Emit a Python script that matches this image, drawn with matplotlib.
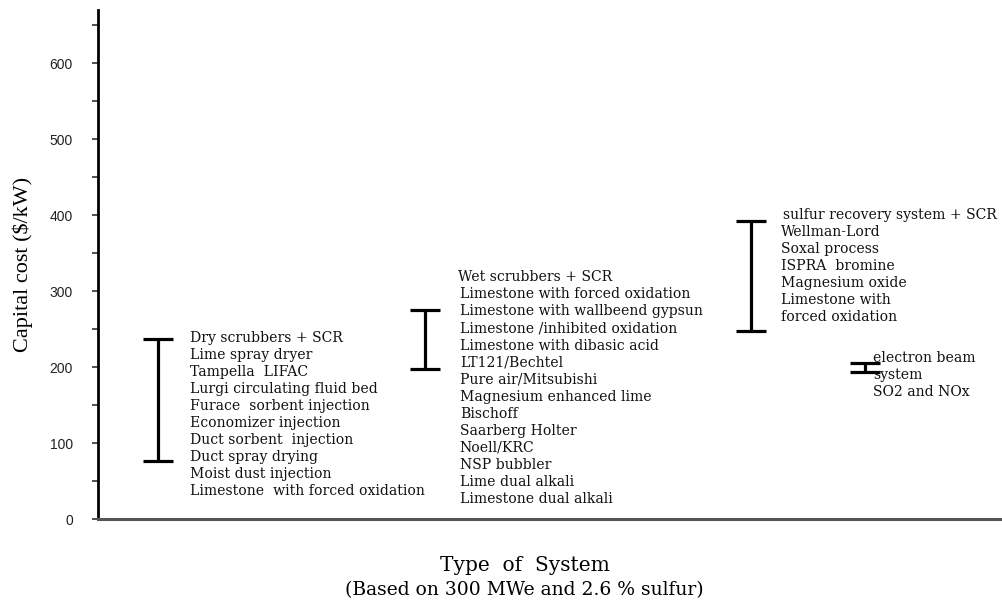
import matplotlib
matplotlib.use("Agg")
import matplotlib.pyplot as plt
from matplotlib.ticker import MultipleLocator

# capital cost ranges ($/kW) for each system group
low = [76, 197, 247, 193]
high = [237, 275, 392, 206]

group_lines = [
    ["Dry scrubbers + SCR", "Lime spray dryer", "Tampella  LIFAC",
     "Lurgi circulating fluid bed", "Furace  sorbent injection",
     "Economizer injection", "Duct sorbent  injection", "Duct spray drying",
     "Moist dust injection", "Limestone  with forced oxidation"],
    ["Wet scrubbers + SCR", "Limestone with forced oxidation",
     "Limestone with wallbeend gypsun", "Limestone /inhibited oxidation",
     "Limestone with dibasic acid", "LT121/Bechtel", "Pure air/Mitsubishi",
     "Magnesium enhanced lime", "Bischoff", "Saarberg Holter", "Noell/KRC",
     "NSP bubbler", "Lime dual alkali", "Limestone dual alkali"],
    ["sulfur recovery system + SCR", "Wellman-Lord", "Soxal process",
     "ISPRA  bromine", "Magnesium oxide", "Limestone with", "forced oxidation"],
    ["electron beam", "system", "SO2 and NOx"],
]

# layout: bar x positions, title x, body x, first line y, line step
bar_x = [6.7, 36.3, 72.4, 85.0]
title_x = [10.2, 39.9, 75.9, 85.9]
body_x = [10.2, 40.1, 75.7, 85.9]
text_y = [238, 318, 400, 212]
step = 22.4

fig = plt.figure(figsize=(10.03, 6.04), dpi=100)
ax = fig.add_axes([0.0977, 0.1407, 0.8993, 0.8427])

for x, lo, hi in zip(bar_x, low, high):
    mid = (lo + hi) / 2
    ax.errorbar(x, mid, yerr=(hi - lo) / 2, fmt="none", ecolor="black",
                elinewidth=2.3, capsize=10.5, capthick=2.3)

for tx, bx, ty, lines in zip(title_x, body_x, text_y, group_lines):
    for i, line in enumerate(lines):
        ax.text(tx if i == 0 else bx, ty - i * step, line,
                family="DejaVu Serif", fontsize=10.1, va="center", ha="left",
                color="#111111")

ax.set_xlim(0, 100)
ax.set_ylim(0, 670)
ax.yaxis.set_major_locator(MultipleLocator(100))
ax.yaxis.set_minor_locator(MultipleLocator(50))
ax.set_xticks([])
ax.tick_params(axis="y", which="both", direction="out", width=1.2,
               color="#333333", labelsize=10, labelcolor="#222222", pad=14)
ax.tick_params(axis="y", which="major", length=4)
ax.tick_params(axis="y", which="minor", length=4)
for lab in ax.get_yticklabels():
    lab.set_family("Liberation Sans")

for side in ["top", "right"]:
    ax.spines[side].set_visible(False)
ax.spines["left"].set_linewidth(2)
ax.spines["left"].set_color("black")
ax.spines["bottom"].set_linewidth(2.2)
ax.spines["bottom"].set_color("#555555")

ax.set_ylabel("Capital cost ($/kW)", family="Liberation Serif", fontsize=16,
              labelpad=12)
fig.text(0.523, 0.064, "Type  of  System", family="DejaVu Serif",
         fontsize=14.5, ha="center", va="center")
fig.text(0.523, 0.023, "(Based on 300 MWe and 2.6 % sulfur)",
         family="DejaVu Serif", fontsize=13.5, ha="center", va="center")

fig.savefig("out.png", dpi=100)
